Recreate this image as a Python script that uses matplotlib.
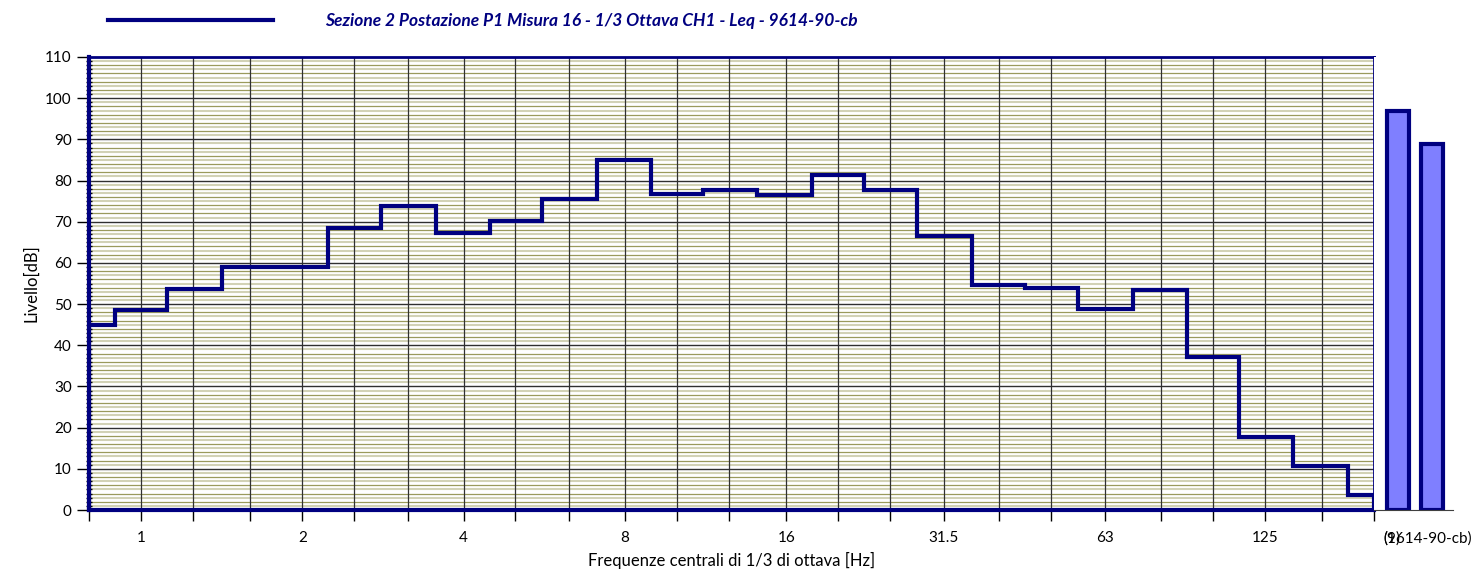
import numpy as np
import matplotlib.pyplot as plt
from matplotlib.ticker import FixedLocator, FixedFormatter

plt.rcParams['font.family'] = ['Lato', 'DejaVu Sans']

# 1/3 octave nominal centre frequencies [Hz]
freqs = [0.8, 1, 1.25, 1.6, 2, 2.5, 3.15, 4, 5, 6.3, 8, 10, 12.5, 16, 20,
         25, 31.5, 40, 50, 63, 80, 100, 125, 160, 200]
# Leq levels [dB]
levels = [45.0, 48.6, 53.6, 59.1, 58.9, 68.5, 73.8, 67.3, 70.2, 75.5, 85.1,
          76.7, 77.6, 76.6, 81.3, 77.6, 66.5, 54.7, 53.8, 48.8, 53.5, 37.2,
          17.7, 10.6, 3.6]
tick_labels = {1: '1', 2: '2', 4: '4', 8: '8', 16: '16', 31.5: '31.5',
               63: '63', 125: '125'}
# overall values (two bars on the right)
overall = [96.9, 88.9]
overall_labels = ['(1)', '(9614-90-cb)']

navy = '#000080'

fig = plt.figure(figsize=(14.79, 5.74), dpi=100)
ax = fig.add_axes([89 / 1479, 1 - 510 / 574, (1374 - 89) / 1479, 453 / 574])

# band edges at geometric means between centres
f = np.array(freqs)
edges = np.concatenate([[f[0]], np.sqrt(f[:-1] * f[1:]), [f[-1]]])

# horizontal grid every 1 dB, alternating colours
for v in range(1, 110):
    if v % 10 == 0:
        c, lw = '#303030', 1.0
    elif v % 2 == 0:
        c, lw = '#9a9a5c', 0.9
    else:
        c, lw = '#d2d2b6', 1.5
    ax.axhline(v, color=c, lw=lw, zorder=1)
for fr in freqs[1:-1]:
    ax.axvline(fr, color='#303030', lw=0.9, zorder=1.5)

ax.stairs(levels, edges, color=navy, lw=3, zorder=3)

ax.set_xscale('log')
ax.set_xlim(f[0], f[-1])
ax.set_ylim(0, 110)
ax.xaxis.set_major_locator(FixedLocator(freqs))
ax.xaxis.set_minor_locator(FixedLocator([]))
ax.xaxis.set_major_formatter(FixedFormatter([tick_labels.get(x, '') for x in freqs]))
ax.tick_params(axis='x', length=8, width=1, pad=7, labelsize=11)
ax.set_yticks(range(0, 111, 10))
ax.set_yticks(range(0, 111, 1), minor=True)
ax.tick_params(axis='y', which='major', length=9, width=1, labelsize=11)
ax.tick_params(axis='y', which='minor', length=4, width=1, direction='inout')
ax.set_ylabel('Livello[dB]', fontsize=12)
ax.set_xlabel('Frequenze centrali di 1/3 di ottava [Hz]', fontsize=12, labelpad=5)
for s in ax.spines.values():
    s.set_color(navy)
    s.set_linewidth(2)
ax.spines['left'].set_linewidth(3)
ax.spines['bottom'].set_linewidth(3)

# overall bars
bx = fig.add_axes([1374 / 1479, 1 - 510 / 574, (1453 - 1374) / 1479, 453 / 574])
pos = [0.3, 0.73]
bx.bar(pos, overall, width=0.28, color='#7f7fff', edgecolor=navy, lw=3)
bx.set_xlim(0, 1)
bx.set_ylim(0, 110)
bx.set_yticks([])
bx.set_xticks([])
for k in ['left', 'right', 'top']:
    bx.spines[k].set_visible(False)
bx.spines['bottom'].set_color('#404040')
bx.text(0.22, -0.062, overall_labels[0], transform=bx.get_xaxis_transform(),
        ha='center', va='center', fontsize=11)
bx.text(0.12, -0.062, overall_labels[1], transform=bx.get_xaxis_transform(),
        ha='left', va='center', fontsize=11)

# legend
fig.legend([plt.Line2D([], [], color=navy, lw=3)],
           ['Sezione 2 Postazione P1 Misura 16 - 1/3 Ottava CH1 - Leq - 9614-90-cb'],
           loc='upper left', bbox_to_anchor=(92 / 1479, 1.005), frameon=False,
           handlelength=9.5, handletextpad=3.0,
           prop={'size': 12.5, 'style': 'italic', 'weight': 'bold'}, labelcolor=navy)

fig.savefig('out.png', dpi=100)
